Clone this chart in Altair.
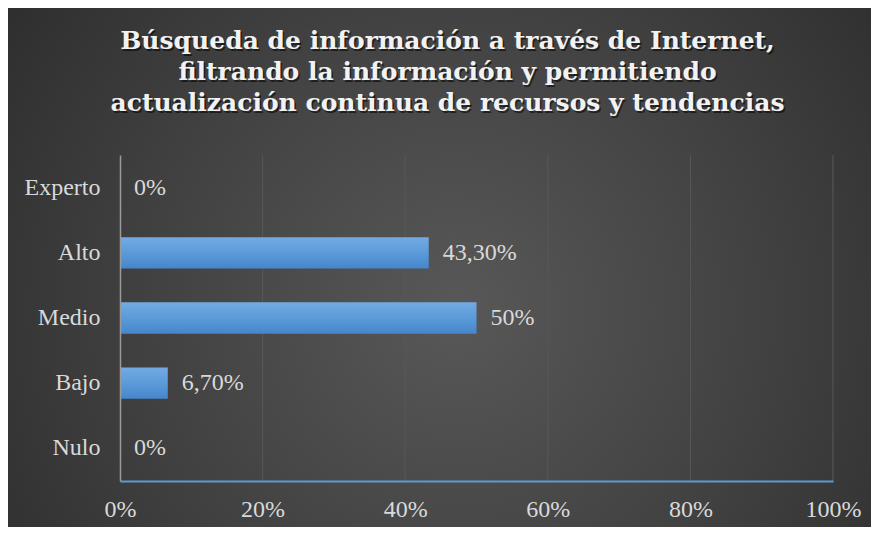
import altair as alt
import pandas as pd

# ---- data ----
categories = ["Experto", "Alto", "Medio", "Bajo", "Nulo"]
values = [0.0, 0.433, 0.50, 0.067, 0.0]
value_labels = ["0%", "43,30%", "50%", "6,70%", "0%"]
x_ticks = [0, 0.2, 0.4, 0.6, 0.8, 1.0]
grid_ticks = [0.2, 0.4, 0.6, 0.8, 1.0]
title_lines = [
    "Búsqueda de información a través de Internet,",
    "filtrando la información y permitiendo",
    "actualización continua de recursos y tendencias",
]

# ---- layout ----
W, H = 713, 326
PAD = {"left": 112, "top": 147, "right": 38, "bottom": 46}
TXT = "#d9d9d9"
SERIF = "Liberation Serif"
FS = 24

df = pd.DataFrame({"cat": categories, "val": values, "lab": value_labels})
grid_df = pd.DataFrame({"g": grid_ticks})
one_df = pd.DataFrame({"k": [0]})

x_scale = alt.Scale(domain=[0, 1])
y_scale = alt.Scale(domain=categories, paddingInner=0.52, paddingOuter=0.26)

x_axis = alt.Axis(
    values=x_ticks, format=".0%", title=None, grid=False, ticks=False,
    domainColor="#5b9bd5", domainWidth=2, labelFont=SERIF, labelFlush=False,
    labelOverlap=False,
    labelFontSize=FS, labelColor=TXT, labelPadding=16, zindex=1,
)
y_axis = alt.Axis(
    title=None, ticks=False, domainColor="#9a9a9a", domainWidth=1.5,
    labelFont=SERIF, labelFontSize=FS, labelColor=TXT, labelPadding=20,
    zindex=1,
)

bg = alt.Chart(one_df).mark_rect(
    color=alt.Gradient(
        gradient="radial",
        stops=[
            alt.GradientStop(color="#585858", offset=0),
            alt.GradientStop(color="#404040", offset=0.5),
            alt.GradientStop(color="#262626", offset=1),
        ],
        x1=0.52, y1=0.55, x2=0.52, y2=0.55, r1=0, r2=0.75,
    )
).encode(
    x=alt.value(-PAD["left"]),
    x2=alt.value(W + PAD["right"]),
    y=alt.value(-PAD["top"]),
    y2=alt.value(H + PAD["bottom"]),
)

grid = alt.Chart(grid_df).mark_rule(color="#585858", strokeWidth=1).encode(
    x=alt.X("g:Q", scale=x_scale, axis=x_axis)
)

bars = alt.Chart(df).mark_bar(
    color=alt.Gradient(
        gradient="linear",
        stops=[
            alt.GradientStop(color="#74aae2", offset=0),
            alt.GradientStop(color="#5b9bd9", offset=0.5),
            alt.GradientStop(color="#4586cc", offset=1),
        ],
        x1=0, y1=0, x2=0, y2=1,
    )
).encode(
    x=alt.X("val:Q", scale=x_scale, axis=x_axis),
    y=alt.Y("cat:N", scale=y_scale, sort=categories, axis=y_axis),
)

labels = alt.Chart(df).mark_text(
    align="left", baseline="middle", dx=14, font=SERIF, fontSize=FS, color=TXT
).encode(
    x=alt.X("val:Q", scale=x_scale, axis=x_axis),
    y=alt.Y("cat:N", scale=y_scale, sort=categories, axis=y_axis),
    text="lab:N",
)

TFS = 25
title_shadow = alt.Chart(one_df).mark_text(
    text=title_lines, align="center", baseline="top", font="DejaVu Serif",
    fontWeight="bold", fontSize=TFS, lineHeight=31, color="#000000", opacity=0.55,
).encode(x=alt.value(W / 2 - 29 + 1.5), y=alt.value(-126 + 1.5))

title = alt.Chart(one_df).mark_text(
    text=title_lines, align="center", baseline="top", font="DejaVu Serif",
    fontWeight="bold", fontSize=TFS, lineHeight=31, color="#f2f2f2",
).encode(x=alt.value(W / 2 - 29), y=alt.value(-126))

chart = alt.layer(bg, grid, bars, labels, title_shadow, title).properties(
    width=W,
    height=H,
    padding=PAD,
    autosize=alt.AutoSizeParams(type="none"),
    background="white",
).configure_view(stroke=None)

chart.save("out.html", embed_options={"renderer": "svg", "actions": False})
